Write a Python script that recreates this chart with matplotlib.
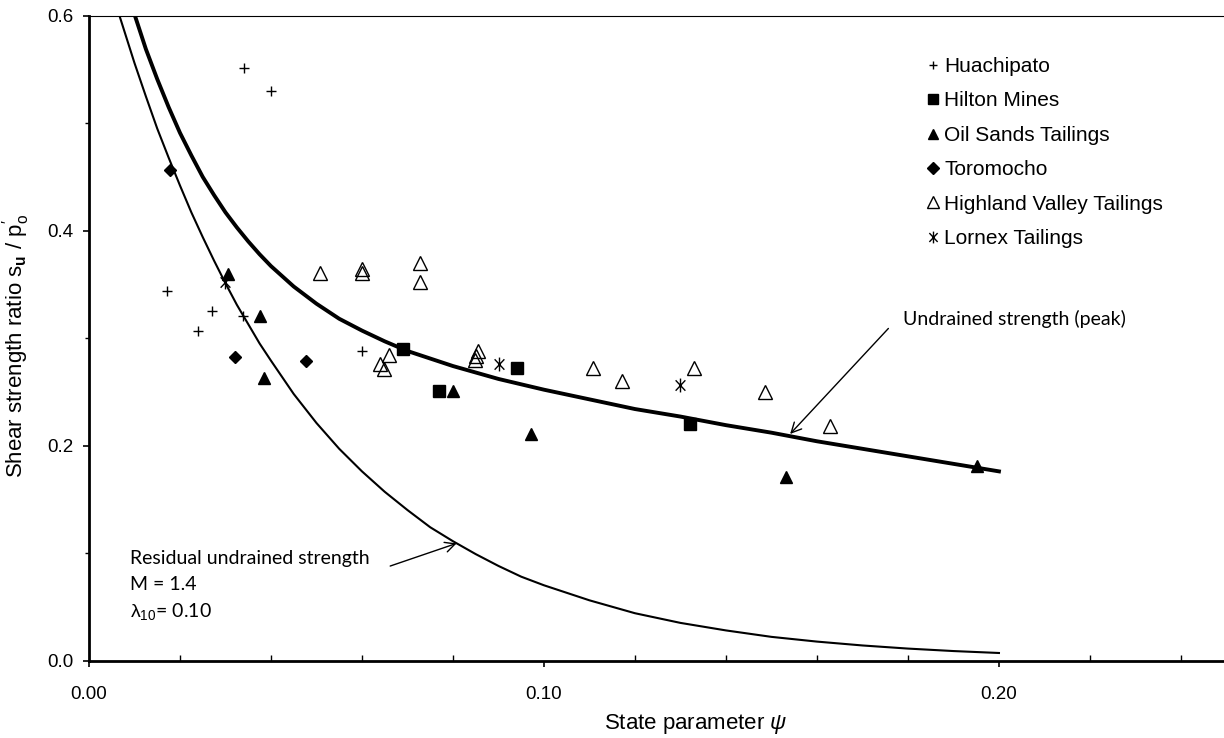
import matplotlib
matplotlib.use("Agg")
import matplotlib.pyplot as plt
from matplotlib.path import Path
from matplotlib.ticker import MultipleLocator, FixedLocator, FixedFormatter

plt.rcParams['font.family'] = ['Liberation Sans', 'DejaVu Sans']
plt.rcParams['mathtext.fontset'] = 'custom'
plt.rcParams['mathtext.rm'] = 'Liberation Sans'
plt.rcParams['mathtext.it'] = 'Liberation Sans:italic'
plt.rcParams['mathtext.bf'] = 'Liberation Sans:bold'

# measured data (state parameter psi, su/p0')
huach_x = [0.0341, 0.0400, 0.0171, 0.0270, 0.0240, 0.0339, 0.0599]
huach_y = [0.551, 0.530, 0.344, 0.325, 0.307, 0.321, 0.288]

hilton_x = [0.0691, 0.0770, 0.0940, 0.1321]
hilton_y = [0.290, 0.251, 0.272, 0.220]

oil_x = [0.0306, 0.0376, 0.0385, 0.0801, 0.0971, 0.1533, 0.1951]
oil_y = [0.360, 0.321, 0.263, 0.251, 0.211, 0.171, 0.181]

toro_x = [0.0178, 0.0322, 0.0477]
toro_y = [0.456, 0.282, 0.279]

hv_x = [0.0508, 0.0599, 0.0599, 0.0727, 0.0727, 0.0659, 0.0640, 0.0649,
        0.0854, 0.0850, 0.0848, 0.1108, 0.1171, 0.1329, 0.1486, 0.1629]
hv_y = [0.361, 0.364, 0.361, 0.370, 0.352, 0.284, 0.276, 0.271,
        0.288, 0.283, 0.280, 0.272, 0.260, 0.272, 0.250, 0.218]

lornex_x = [0.0299, 0.0901, 0.1300]
lornex_y = [0.352, 0.276, 0.256]

# curves
peak_x = [0.0101, 0.0125, 0.015, 0.0175, 0.020, 0.0225, 0.025, 0.0275, 0.030, 0.0325,
          0.035, 0.0375, 0.040, 0.045, 0.050, 0.055, 0.060, 0.065, 0.070, 0.075,
          0.080, 0.085, 0.090, 0.095, 0.100, 0.110, 0.120, 0.130, 0.140, 0.150,
          0.160, 0.170, 0.180, 0.190, 0.200]
peak_y = [0.600, 0.569, 0.541, 0.515, 0.491, 0.470, 0.450, 0.433, 0.417, 0.403,
          0.390, 0.378, 0.367, 0.348, 0.332, 0.318, 0.307, 0.297, 0.288, 0.281,
          0.274, 0.268, 0.262, 0.257, 0.252, 0.243, 0.234, 0.227, 0.219, 0.212,
          0.204, 0.197, 0.190, 0.183, 0.176]

resid_x = [0.0067, 0.010, 0.0125, 0.015, 0.0175, 0.020, 0.0225, 0.025, 0.0275, 0.030,
           0.0325, 0.035, 0.0375, 0.040, 0.045, 0.050, 0.055, 0.060, 0.065, 0.070,
           0.075, 0.080, 0.085, 0.090, 0.095, 0.100, 0.110, 0.120, 0.130, 0.140,
           0.150, 0.160, 0.170, 0.180, 0.190, 0.200]
resid_y = [0.600, 0.556, 0.525, 0.495, 0.468, 0.442, 0.417, 0.394, 0.372, 0.351,
           0.331, 0.313, 0.295, 0.279, 0.248, 0.221, 0.197, 0.176, 0.157, 0.140,
           0.124, 0.111, 0.099, 0.088, 0.078, 0.070, 0.056, 0.044, 0.035, 0.028,
           0.022, 0.0176, 0.014, 0.0111, 0.0088, 0.0070]

xticks = [0.0, 0.1, 0.2]
xticklabels = ['0.00', '0.10', '0.20']
yticks = [0.0, 0.2, 0.4, 0.6]
yticklabels = ['0.0', '0.2', '0.4', '0.6']

# six-armed asterisk (no horizontal arm) for Lornex
star = Path([(0, -1), (0, 1), (-0.7, -0.75), (0.7, 0.75), (-0.7, 0.75), (0.7, -0.75)],
            [Path.MOVETO, Path.LINETO] * 3)

fig = plt.figure(figsize=(12.24, 7.38), dpi=100)
ax = fig.add_axes([0.0727, 0.1050, 0.9293, 0.8737])

ax.plot(peak_x, peak_y, '-', color='black', lw=2.8, zorder=2)
ax.plot(resid_x, resid_y, '-', color='black', lw=1.5, zorder=2)

h1, = ax.plot(huach_x, huach_y, '+', color='black', ms=7, mew=1.0, ls='none', zorder=3)
h2, = ax.plot(hilton_x, hilton_y, 's', color='black', ms=8, ls='none', zorder=3)
h3, = ax.plot(oil_x, oil_y, '^', color='black', ms=8, ls='none', zorder=3)
h4, = ax.plot(toro_x, toro_y, 'D', color='black', ms=6.6, ls='none', zorder=3)
h5, = ax.plot(hv_x, hv_y, '^', mfc='none', mec='black', ms=10.5, mew=1.0, ls='none', zorder=3)
h6, = ax.plot(lornex_x, lornex_y, marker=star, color='black', ms=10, mew=1.0, ls='none', zorder=3)

ax.set_xlim(0, 0.25)
ax.set_ylim(0, 0.6)

ax.xaxis.set_major_locator(FixedLocator(xticks))
ax.xaxis.set_major_formatter(FixedFormatter(xticklabels))
ax.xaxis.set_minor_locator(MultipleLocator(0.02))
ax.yaxis.set_major_locator(FixedLocator(yticks))
ax.yaxis.set_major_formatter(FixedFormatter(yticklabels))
ax.yaxis.set_minor_locator(MultipleLocator(0.1))

ax.tick_params(axis='x', which='major', direction='out', length=4.5, width=1.2, labelsize=13.5, pad=14)
ax.tick_params(axis='x', which='minor', direction='in', length=4, width=1.0)
ax.tick_params(axis='y', which='major', direction='out', length=4.5, width=1.2, labelsize=13.5, pad=7)
ax.tick_params(axis='y', which='minor', direction='out', length=3, width=1.0)

ax.spines['right'].set_visible(False)
ax.spines['top'].set_linewidth(0.8)
ax.spines['left'].set_linewidth(2.0)
ax.spines['bottom'].set_linewidth(2.0)

ax.set_xlabel(r'State parameter $\mathit{\psi}$', fontsize=16)
ax.xaxis.set_label_coords(0.533, -0.080)
ax.set_ylabel(r'Shear strength ratio $\mathrm{s}_{\mathbf{u}}$ / $\mathrm{p}_{\mathrm{o}}^{\prime}$',
              fontsize=16)
ax.yaxis.set_label_coords(-0.050, 0.488)

leg = ax.legend([h1, h2, h3, h4, h5, h6],
                ['Huachipato', 'Hilton Mines', 'Oil Sands Tailings', 'Toromocho',
                 'Highland Valley Tailings', 'Lornex Tailings'],
                loc='upper left', bbox_to_anchor=(924.5 / 1224, 1 - 57 / 738),
                bbox_transform=fig.transFigure, frameon=False, fontsize=15,
                handlelength=0.8, handletextpad=0.15, labelspacing=0.74,
                borderpad=0, borderaxespad=0, markerscale=0.85)

ann_font = dict(family=['Lato', 'DejaVu Sans'], fontsize=14)
ax.annotate('', xy=(0.1541, 0.2108), xytext=(0.1757, 0.309),
            arrowprops=dict(arrowstyle='->', lw=1.0, color='black',
                            shrinkA=0, shrinkB=0, mutation_scale=18))
ax.text(0.1789, 0.312, 'Undrained strength (peak)', va='baseline', ha='left', **ann_font)

ax.annotate('', xy=(0.0808, 0.109), xytext=(0.0662, 0.0879),
            arrowprops=dict(arrowstyle='->', lw=1.0, color='black',
                            shrinkA=0, shrinkB=0, mutation_scale=18))
ax.text(0.0090, 0.0898, 'Residual undrained strength', va='baseline', ha='left', **ann_font)
ax.text(0.0090, 0.0656, 'M = 1.4', va='baseline', ha='left', **ann_font)
ax.text(0.0090, 0.0408, r'$\mathrm{\lambda}_{\mathrm{10}}$= 0.10', va='baseline', ha='left', **ann_font)

fig.savefig('out.png', dpi=100)
